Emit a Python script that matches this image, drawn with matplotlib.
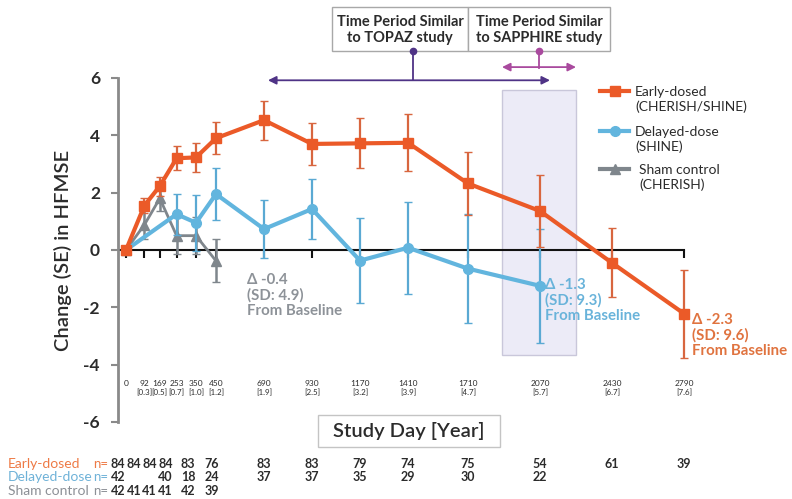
import matplotlib.pyplot as plt
import matplotlib.transforms as mtransforms
from matplotlib.patches import Rectangle
from matplotlib.lines import Line2D

plt.rcParams['font.family'] = ['Lato', 'DejaVu Sans']
plt.rcParams['axes.unicode_minus'] = False

# study days and years
days = [0, 92, 169, 253, 350, 450, 690, 930, 1170, 1410, 1710, 2070, 2430, 2790]
years = ['', '[0.3]', '[0.5]', '[0.7]', '[1.0]', '[1.2]', '[1.9]', '[2.5]',
         '[3.2]', '[3.9]', '[4.7]', '[5.7]', '[6.7]', '[7.6]']

# Early-dosed (CHERISH/SHINE)
early_days = days
early_mean = [0, 1.55, 2.23, 3.2, 3.23, 3.9, 4.53, 3.7, 3.72, 3.74, 2.32, 1.36, -0.45, -2.22]
early_se = [0, 0.27, 0.33, 0.42, 0.5, 0.55, 0.68, 0.74, 0.87, 1.0, 1.1, 1.25, 1.2, 1.53]

# Delayed-dose (SHINE)
delayed_days = [0, 253, 350, 450, 690, 930, 1170, 1410, 1710, 2070]
delayed_mean = [0, 1.25, 0.95, 1.95, 0.73, 1.43, -0.37, 0.08, -0.65, -1.25]
delayed_se = [0, 0.72, 0.98, 0.9, 1.0, 1.05, 1.48, 1.6, 1.9, 1.98]

# Sham control (CHERISH)
sham_days = [0, 92, 169, 253, 350, 450]
sham_mean = [0, 0.88, 1.8, 0.5, 0.5, -0.38]
sham_se = [0, 0.5, 0.45, 0.65, 0.65, 0.75]

# patient numbers
n_early = [84, 84, 84, 84, 83, 76, 83, 83, 79, 74, 75, 54, 61, 39]
n_delayed = [42, None, None, 40, 18, 24, 37, 37, 35, 29, 30, 22, None, None]
n_sham = [42, 41, 41, 41, 42, 39, None, None, None, None, None, None, None, None]
# the first six columns of the n table are squeezed together
n_pos = [-40, 40, 118, 198, 310, 430] + days[6:]

# study windows (days)
topaz_window = (710, 2120)
sapphire_window = (1880, 2250)

ORANGE = '#eb5a28'
ORANGE_EB = '#d8663f'
BLUE = '#62b5de'
BLUE_EB = '#5aa9d3'
GREY = '#7f868c'
TXT = '#2b2b2b'

fig = plt.figure(figsize=(7.92, 4.99), dpi=100)
W, H = 792, 499

# overlay in pixel coordinates for layout elements
ov = fig.add_axes([0, 0, 1, 1])
ov.set_xlim(0, W)
ov.set_ylim(H, 0)
ov.axis('off')

ax = fig.add_axes([118 / W, (H - 422) / H, 582 / W, 344 / H])
ax.patch.set_alpha(0)
ax.set_xlim(-40, 2870)
ax.set_ylim(-6, 6)
for s in ['top', 'right', 'bottom']:
    ax.spines[s].set_visible(False)
ax.spines['left'].set_color('#8a8a8a')
ax.spines['left'].set_linewidth(2)
ax.set_xticks([])
ax.set_yticks(range(-6, 7, 2))
ax.tick_params(axis='y', length=5, width=1.5, color='#8a8a8a', labelsize=12.5, pad=8)
for lab in ax.get_yticklabels():
    lab.set_fontweight('bold')
    lab.set_color(TXT)
ax.set_ylabel('Change (SE) in HFMSE', fontsize=14.5, color=TXT, labelpad=8,
              fontweight='semibold')

# SAPPHIRE window shading
ax.add_patch(Rectangle((sapphire_window[0], -3.66), sapphire_window[1] - sapphire_window[0], 9.23,
                       facecolor='#ecebf7', edgecolor='#c9c7da', lw=1, zorder=0))

# zero line with ticks
ax.plot([-40, days[-1]], [0, 0], color='#111111', lw=1.5, zorder=1)
ax.vlines(days, -0.28, 0, color='#111111', lw=1.5, zorder=1)

for d, yr in zip(days, years):
    ax.text(d, -4.64, str(d), ha='center', va='center', fontsize=6, color=TXT)
    if yr:
        ax.text(d, -4.99, yr, ha='center', va='center', fontsize=5.8, color=TXT)

# series
ax.errorbar(sham_days, sham_mean, yerr=sham_se, color=GREY, ecolor=GREY, lw=2,
            elinewidth=1.8, capsize=3, marker='^', ms=7, zorder=3)
ax.errorbar(delayed_days, delayed_mean, yerr=delayed_se, color=BLUE, ecolor=BLUE_EB, lw=3,
            elinewidth=1.6, capsize=3, marker='o', ms=7, zorder=4)
ax.errorbar(early_days, early_mean, yerr=early_se, color=ORANGE, ecolor=ORANGE_EB, lw=3,
            elinewidth=1.6, capsize=3, marker='s', ms=7, zorder=5)

# end-of-series notes
note_kw = dict(fontsize=10.8, fontweight='bold', va='top', ha='left', linespacing=1.1)
ax.text(605, -0.8, '\u0394 -0.4\n(SD: 4.9)\nFrom Baseline', color='#8d9298', **note_kw)
ax.text(2095, -0.98, '\u0394 -1.3\n(SD: 9.3)\nFrom Baseline', color='#69b3da', **note_kw)
ax.text(2830, -2.2, '\u0394 -2.3\n(SD: 9.6)\nFrom Baseline', color='#e0733f', **note_kw)

# time period arrows
PURPLE = '#4f3386'
MAGENTA = '#a94a9e'
ax.annotate('', xy=(topaz_window[0], 5.92), xytext=(topaz_window[1], 5.92),
            arrowprops=dict(arrowstyle='<|-|>', color=PURPLE, lw=1.3, mutation_scale=12,
                            shrinkA=0, shrinkB=0), annotation_clip=False)
ax.annotate('', xy=(sapphire_window[0], 6.38), xytext=(sapphire_window[1], 6.38),
            arrowprops=dict(arrowstyle='<|-|>', color=MAGENTA, lw=1.3, mutation_scale=12,
                            shrinkA=0, shrinkB=0), annotation_clip=False)

# boxes with study labels
ov.add_patch(Rectangle((332, 7), 136, 44, facecolor='white', edgecolor='#a8a8a8', lw=1))
ov.add_patch(Rectangle((468, 7), 142, 44, facecolor='white', edgecolor='#a8a8a8', lw=1))
ov.text(400, 30, 'Time Period Similar\nto TOPAZ study', ha='center', va='center',
        fontsize=10.5, fontweight='bold', color=TXT, linespacing=1.2)
ov.text(539, 30, 'Time Period Similar\nto SAPPHIRE study', ha='center', va='center',
        fontsize=10.5, fontweight='bold', color=TXT, linespacing=1.2)
ov.plot([413, 413], [51, 80], color=PURPLE, lw=1.3)
ov.plot([413], [51], 'o', color=PURPLE, ms=4.5)
ov.plot([539, 539], [51, 68], color=MAGENTA, lw=1.3)
ov.plot([539], [51], 'o', color=MAGENTA, ms=4.5)

# legend
leg = [('Early-dosed\n(CHERISH/SHINE)', ORANGE, 's', 91, 635),
       ('Delayed-dose\n(SHINE)', BLUE, 'o', 131, 635),
       ('Sham control\n(CHERISH)', GREY, '^', 169, 639)]
for label, c, m, yy, tx in leg:
    ov.add_line(Line2D([600, 629], [yy, yy], color=c, lw=3))
    ov.plot([614.5], [yy], marker=m, color=c, ms=7)
    ov.text(tx, yy - 5, label, ha='left', va='top', fontsize=10, color=TXT,
            linespacing=1.25)

# Study Day box
ov.add_patch(Rectangle((318, 415), 182, 32, facecolor='white', edgecolor='#c4c4c4', lw=1))
ov.text(409, 431, 'Study Day [Year]', ha='center', va='center', fontsize=14.5,
        fontweight='semibold', color=TXT)

# n table
trans = mtransforms.blended_transform_factory(ax.transData, ov.transData)
rows = [('Early-dosed', '#ee7a45', n_early, 464),
        ('Delayed-dose', '#6fb2d8', n_delayed, 477),
        ('Sham control', '#8c9096', n_sham, 491)]
for name, c, vals, yy in rows:
    ov.text(8, yy, name, ha='left', va='center', fontsize=10, color=c)
    ov.text(93, yy, 'n=', ha='left', va='center', fontsize=9.5, color=c)
    for xp, v in zip(n_pos, vals):
        if v is not None:
            ax.text(xp, yy, str(v), transform=trans, ha='center', va='center',
                    fontsize=9, fontweight='bold', color=TXT, clip_on=False)

fig.savefig('out.png', dpi=100)
